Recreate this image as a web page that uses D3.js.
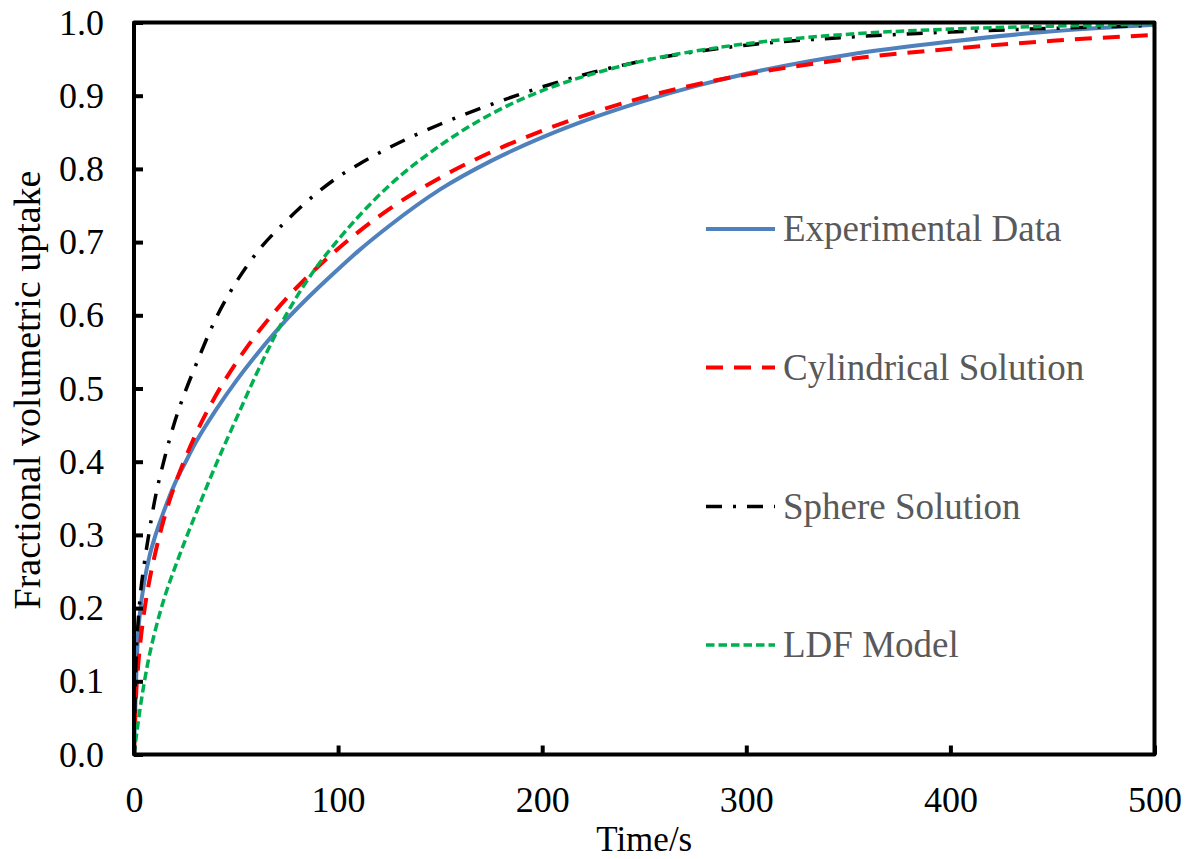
<!DOCTYPE html>
<html>
<head>
<meta charset="utf-8">
<script src="https://cdn.jsdelivr.net/npm/d3@7"></script>
<style>
  html, body { margin: 0; padding: 0; background: #fff; }
  svg { display: block; }
  text { font-family: "Liberation Serif", "Times New Roman", serif; }
</style>
</head>
<body>
<svg id="chart" width="1192" height="859"></svg>
<script>
// Sampling times (s)
const timeS = [0, 1, 2, 3, 5, 7.5, 10, 15, 20, 25, 30, 40, 50, 60, 75, 90, 100, 110, 125, 150, 175, 200, 225, 250, 275, 300, 350, 400, 450, 500];

// Fractional volumetric uptake for each series
const experimental = [0, 0.10, 0.165, 0.195, 0.235, 0.27, 0.295, 0.335, 0.37, 0.398, 0.425, 0.47, 0.51, 0.546, 0.595, 0.637, 0.663, 0.688, 0.722, 0.772, 0.811, 0.843, 0.870, 0.893, 0.913, 0.930, 0.956, 0.974, 0.988, 0.997];
const cylindrical  = [0, 0.08, 0.12, 0.15, 0.195, 0.237, 0.27, 0.325, 0.368, 0.404, 0.436, 0.49, 0.535, 0.574, 0.624, 0.666, 0.691, 0.714, 0.745, 0.788, 0.823, 0.852, 0.877, 0.898, 0.915, 0.929, 0.950, 0.964, 0.975, 0.983];
const sphere       = [0, 0.13, 0.18, 0.215, 0.26, 0.305, 0.345, 0.405, 0.455, 0.495, 0.53, 0.595, 0.645, 0.685, 0.73, 0.768, 0.789, 0.806, 0.829, 0.861, 0.888, 0.912, 0.932, 0.948, 0.960, 0.969, 0.980, 0.987, 0.992, 0.996];
const ldf          = [0, 0.022, 0.043, 0.063, 0.098, 0.135, 0.165, 0.215, 0.255, 0.292, 0.327, 0.395, 0.458, 0.52, 0.603, 0.668, 0.703, 0.735, 0.777, 0.832, 0.875, 0.907, 0.930, 0.948, 0.961, 0.971, 0.984, 0.991, 0.995, 0.998];

const seriesNames = ["Experimental Data", "Cylindrical Solution", "Sphere Solution", "LDF Model"];
const xTicks = [0, 100, 200, 300, 400, 500];
const yTicks = [0, 0.1, 0.2, 0.3, 0.4, 0.5, 0.6, 0.7, 0.8, 0.9, 1.0];

const seriesStyles = [
  { values: experimental, color: "#4F81BD", width: 4,   dash: null },
  { values: cylindrical,  color: "#FF0000", width: 4,   dash: "17,11" },
  { values: sphere,       color: "#000000", width: 3.5, dash: "16,11,3,11" },
  { values: ldf,          color: "#00B050", width: 3.5, dash: "8.5,4" }
];

const svg = d3.select("#chart");
const plot = { left: 134, right: 1154.5, top: 22.5, bottom: 754.5 };

const x = d3.scaleLinear().domain([0, 500]).range([plot.left, plot.right]);
const y = d3.scaleLinear().domain([0, 1]).range([plot.bottom, plot.top]);

// Curves
const line = d3.line()
  .x(d => x(d[0]))
  .y(d => y(d[1]))
  .curve(d3.curveMonotoneX);

seriesStyles.forEach(s => {
  svg.append("path")
    .datum(timeS.map((t, i) => [t, s.values[i]]))
    .attr("fill", "none")
    .attr("stroke", s.color)
    .attr("stroke-width", s.width)
    .attr("stroke-dasharray", s.dash)
    .attr("stroke-linejoin", "round")
    .attr("d", line);
});

// Axes with inward ticks
const xAxis = d3.axisBottom(x)
  .tickValues(xTicks)
  .tickFormat(d3.format("d"))
  .tickSizeInner(-9)
  .tickSizeOuter(0)
  .tickPadding(32);

const yAxis = d3.axisLeft(y)
  .tickValues(yTicks)
  .tickFormat(d3.format(".1f"))
  .tickSizeInner(-9)
  .tickSizeOuter(0)
  .tickPadding(30);

const gx = svg.append("g").attr("transform", `translate(0,${plot.bottom})`).call(xAxis);
const gy = svg.append("g").attr("transform", `translate(${plot.left},0)`).call(yAxis);

[gx, gy].forEach(g => {
  g.select(".domain").remove();
  g.selectAll(".tick line").attr("stroke", "#000").attr("stroke-width", 4);
  g.selectAll(".tick text")
    .attr("fill", "#000")
    .style("font-size", "36px")
    .style("font-family", "'Liberation Serif', 'Times New Roman', serif");
});

// Plot frame
svg.append("rect")
  .attr("x", plot.left)
  .attr("y", plot.top)
  .attr("width", plot.right - plot.left)
  .attr("height", plot.bottom - plot.top)
  .attr("fill", "none")
  .attr("stroke", "#000")
  .attr("stroke-width", 4)
  .attr("stroke-linejoin", "round");

// Axis titles
svg.append("text")
  .attr("x", (plot.left + plot.right) / 2)
  .attr("y", 851)
  .attr("text-anchor", "middle")
  .style("font-size", "35px")
  .attr("fill", "#000")
  .text("Time/s");

svg.append("text")
  .attr("transform", "translate(40,390) rotate(-90)")
  .attr("text-anchor", "middle")
  .style("font-size", "38px")
  .attr("fill", "#000")
  .text("Fractional volumetric uptake");

// Legend
const legendRowY = [229, 367.5, 506.5, 645];
const legend = svg.append("g");
seriesStyles.forEach((s, i) => {
  const ly = legendRowY[i];
  legend.append("line")
    .attr("x1", 706).attr("x2", 775)
    .attr("y1", ly).attr("y2", ly)
    .attr("stroke", s.color)
    .attr("stroke-width", s.width)
    .attr("stroke-dasharray", s.dash);
  legend.append("text")
    .attr("x", 783)
    .attr("y", ly + 12)
    .style("font-size", "37px")
    .attr("fill", "#595959")
    .text(seriesNames[i]);
});
</script>
</body>
</html>
